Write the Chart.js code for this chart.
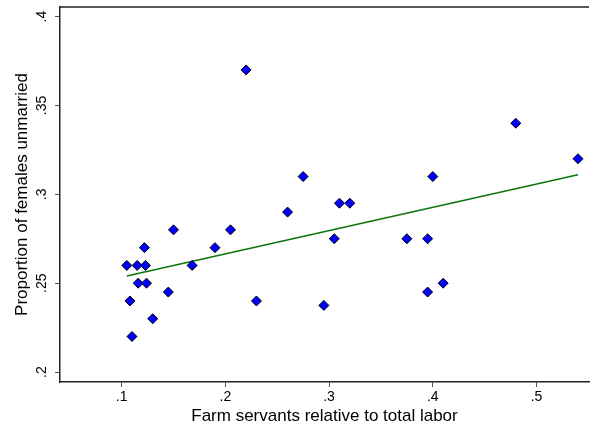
<!DOCTYPE html>
<html><head><meta charset="utf-8">
<script src="https://cdn.jsdelivr.net/npm/chart.js@4.4.0/dist/chart.umd.min.js"></script>
<style>html,body{margin:0;padding:0;background:#fff;}#wrap{width:595px;height:430px;}</style>
</head><body><div id="wrap"><canvas id="c" width="595" height="430"></canvas></div>
<script>
const farmServants = [0.105,0.115,0.123,0.122,0.150,0.205,0.190,0.168,0.116,0.124,0.108,0.145,0.230,0.130,0.110,0.260,0.275,0.310,0.320,0.305,0.375,0.395,0.395,0.410,0.400,0.480,0.540,0.220,0.295];
const unmarried    = [0.260,0.260,0.260,0.270,0.280,0.280,0.270,0.260,0.250,0.250,0.240,0.245,0.240,0.230,0.220,0.290,0.310,0.295,0.295,0.275,0.275,0.275,0.245,0.250,0.310,0.340,0.320,0.370,0.2375];
const fitX = [0.105, 0.540];
const fitY = [0.254, 0.311];
const xTickValues = [0.1,0.2,0.3,0.4,0.5];
const xTickLabels = ['.1','.2','.3','.4','.5'];
const yTickValues = [0.2,0.25,0.3,0.35,0.4];
const yTickLabels = ['.2','.25','.3','.35','.4'];
const xTitle = 'Farm servants relative to total labor';
const yTitle = 'Proportion of females unmarried';

const FONT = "'Liberation Sans', Arial, sans-serif";

const framePlugin = {
  id: 'frame',
  afterDraw(chart) {
    const ctx = chart.ctx, a = chart.chartArea, ys = chart.scales.y;
    ctx.save();
    ctx.strokeStyle = '#222';
    ctx.lineWidth = 1.5;
    ctx.beginPath();
    ctx.moveTo(a.left - 0.75, a.top);
    ctx.lineTo(a.right, a.top);
    ctx.stroke();
    ctx.fillStyle = '#000';
    ctx.font = '14px ' + FONT;
    ctx.textAlign = 'center';
    ctx.textBaseline = 'alphabetic';
    yTickValues.forEach((v, i) => {
      const py = ys.getPixelForValue(v);
      ctx.save();
      ctx.translate(46, py);
      ctx.rotate(-Math.PI / 2);
      ctx.fillText(yTickLabels[i], 0, 0);
      ctx.restore();
    });
    ctx.restore();
  }
};

new Chart(document.getElementById('c'), {
  data: {
    datasets: [
      {
        type: 'scatter',
        data: farmServants.map((x, i) => ({x: x, y: unmarried[i]})),
        pointStyle: 'rectRot',
        pointRadius: 5,
        backgroundColor: '#0000ff',
        borderColor: '#000',
        borderWidth: 1,
        order: 0
      },
      {
        type: 'line',
        data: fitX.map((x, i) => ({x: x, y: fitY[i]})),
        borderColor: '#0a760a',
        borderWidth: 1.5,
        pointRadius: 0,
        fill: false,
        order: 1
      }
    ]
  },
  options: {
    responsive: false,
    animation: false,
    devicePixelRatio: 1,
    layout: {padding: {left: 0, top: 7, right: 0, bottom: 0}},
    plugins: {legend: {display: false}, tooltip: {enabled: false}},
    scales: {
      x: {
        type: 'linear', position: 'bottom',
        min: 0.0406, max: 0.5506,
        afterBuildTicks: s => { s.ticks = xTickValues.map(v => ({value: v})); },
        afterFit: s => { s.height = 48; },
        ticks: {
          callback: (v, i) => xTickLabels[i],
          autoSkip: false, maxRotation: 0, minRotation: 0,
          color: '#000', font: {family: FONT, size: 14}, padding: 2
        },
        grid: {drawOnChartArea: false, drawTicks: true, tickLength: 5, color: '#555', lineWidth: 1},
        border: {display: true, color: '#222', width: 1.5},
        title: {display: true, text: xTitle, color: '#000', font: {family: FONT, size: 17}, padding: {top: 0, bottom: 3}}
      },
      y: {
        type: 'linear', position: 'left',
        min: 0.1944, max: 0.4054,
        afterBuildTicks: s => { s.ticks = yTickValues.map(v => ({value: v})); },
        afterFit: s => { s.width = 60; },
        ticks: {display: false},
        grid: {drawOnChartArea: false, drawTicks: true, tickLength: 5, color: '#555', lineWidth: 1},
        border: {display: true, color: '#222', width: 1.5},
        title: {display: true, text: yTitle, color: '#000', font: {family: FONT, size: 17}, padding: {top: 12, bottom: 0}}
      }
    }
  },
  plugins: [framePlugin]
});
</script>
</body></html>
